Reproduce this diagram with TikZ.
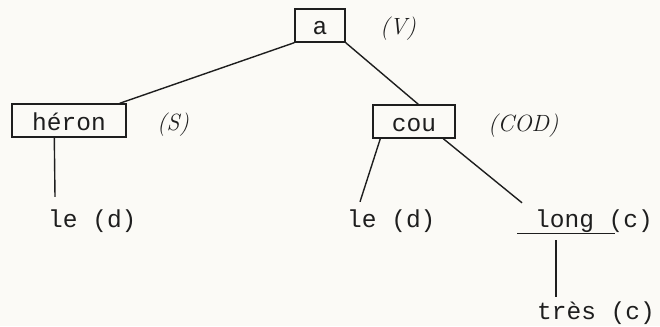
\documentclass[tikz,border=0pt]{standalone}
\usepackage{fontspec}
\setmonofont{Liberation Mono}
\usetikzlibrary{calc}
\definecolor{paper}{RGB}{251,250,246}
\definecolor{ink}{RGB}{30,30,30}
\begin{document}
\begin{tikzpicture}[x=1pt,y=-1pt,
  conn/.style={draw=ink,line width=1.4pt},
  wbox/.style={draw=ink,line width=1.4pt,rectangle,anchor=base,inner xsep=0pt,inner ysep=7pt,
    text height=19pt,text depth=0pt,font=\fontsize{24.5}{28}\ttfamily,text=ink},
  word/.style={anchor=base west,inner sep=0pt,text height=18pt,text depth=0pt,
    font=\fontsize{24.5}{28}\ttfamily,text=ink},
  role/.style={anchor=base west,inner sep=0pt,font=\fontsize{23.5}{28}\itshape,text=ink}]
\fill[paper] (0,0) rectangle (660,326);
\useasboundingbox (0,0) rectangle (660,326);
% boxed nodes
\node[wbox,minimum width=50pt] (a) at (320,35) {a};
\node[wbox,minimum width=114pt] (heron) at (69,130) {héron};
\node[wbox,minimum width=82pt] (cou) at (414,131) {cou};
% role labels
\node[role] (rV) at (380,35) {(V)};
\node[role] (rS) at (157,130) {(S)};
\node[role] (rCOD) at (488,131) {(COD)};
% leaf words
\node[word] (le1) at (48,227) {le (d)};
\node[word] (le2) at (347,227) {le (d)};
\node[word] (long) at (535,227) {long (c)};
\node[word] (tres) at (537,319) {très (c)};
% connectors
\draw[conn] (a.south west) -- ($(heron.north east)+(-7,0)$);
\draw[conn] (a.south east) -- ($(cou.north west)+(46,0)$);
\draw[conn] ($(heron.south west)+(43,0)$) -- ($(le1.north west)+(7,-12)$);
\draw[conn] ($(cou.south west)+(8,0)$) -- ($(le2.north west)+(13,-7)$);
\draw[conn] ($(cou.south west)+(71,0)$) -- ($(long.north west)+(-13,-6)$);
\draw[conn] ($(long.south west)+(-18,6)$) -- ($(long.south west)+(80,6)$);
\draw[conn] ($(long.south west)+(21,13)$) -- ($(tres.north west)+(19,-4)$);
\end{tikzpicture}
\end{document}
